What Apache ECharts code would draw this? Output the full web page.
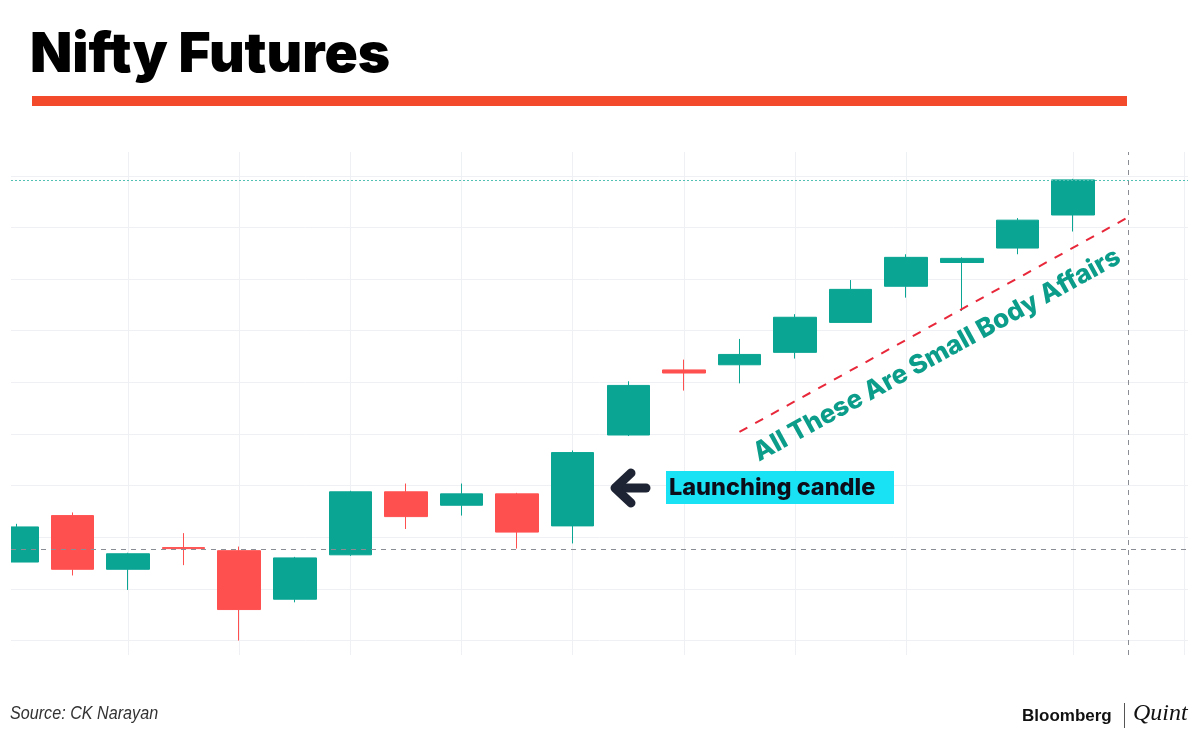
<!DOCTYPE html>
<html><head><meta charset="utf-8">
<script src="https://cdn.jsdelivr.net/npm/echarts@6/dist/echarts.min.js"></script>
<style>html,body{margin:0;padding:0;background:#fff}#c{width:1200px;height:730px}</style>
</head><body><div id="c"></div>
<script>
// ---- data ----
const candleX = [1,2,3,4,5,6,7,8,9,10,11,12,13,14,15,16,17,18,19,20];
const opens  = [11476,11521,11469,11490,11487,11440,11483,11544,11531,11542,11511,11599,11662,11667,11679,11708,11743,11766,11780,11812];
const closes = [11510,11469,11484,11489,11430,11480,11544,11520,11542,11505,11582,11647,11659,11677,11713,11740,11771,11770,11807,11846];
const lows   = [11476,11463,11449,11473,11400,11437,11482,11508,11521,11489,11494,11598,11642,11649,11673,11708,11732,11719,11774,11796];
const highs  = [11513,11524,11485,11504,11491,11481,11545,11552,11552,11543,11584,11651,11672,11692,11716,11749,11774,11771,11809,11847];
const priceGrid = [11400,11450,11500,11550,11600,11650,11700,11750,11800,11850];
const timeGrid = [3,5,7,9,11,13,15,17,20,22];
const crossX = 21;
const crossPrice = 11488;
const lastPrice = closes[closes.length-1];
const trendStart = [14, 11602];
const trendEnd = [21, 11810];

const UP = '#0aa593', DOWN = '#ff5050';
const data = candleX.map((x,i)=>[x, opens[i], closes[i], lows[i], highs[i]]);

const chart = echarts.init(document.getElementById('c'), null, {renderer:'canvas'});
const gridLineStyle = {color:'#eef0f3', width:1, type:'solid'};
chart.setOption({
  animation:false,
  backgroundColor:'#fff',
  grid:{left:11, right:12, top:152, bottom:75},
  xAxis:{type:'value', min:0.894, max:22.07, show:false, splitLine:{show:false}},
  yAxis:{type:'value', min:11386, max:11873, show:false, splitLine:{show:false}, scale:true},
  series:[
    {
      type:'line', data:[], z:1, silent:true,
      markLine:{
        z:1, silent:true, symbol:'none', animation:false, label:{show:false},
        lineStyle:gridLineStyle,
        data: priceGrid.map(v=>({yAxis:v})).concat(timeGrid.map(v=>({xAxis:v})))
      }
    },
    {
      type:'candlestick', z:3, clip:true, barWidth:43,
      encode:{x:0, y:[1,2,3,4]},
      data:data,
      itemStyle:{color:UP, color0:DOWN, borderColor:UP, borderColor0:DOWN, borderWidth:1},
      markLine:{
        z:6, silent:true, symbol:'none', animation:false, label:{show:false},
        data:[
          {yAxis:crossPrice, lineStyle:{color:'#8a8d93', width:1, type:[5,5]}},
          {xAxis:crossX, lineStyle:{color:'#8a8d93', width:1, type:[5,5]}},
          {yAxis:lastPrice, lineStyle:{color:'#52c0b2', width:1, type:[2,2]}},
          [{coord:trendStart, lineStyle:{color:'#e8283a', width:2, type:[9,9]}}, {coord:trendEnd}]
        ]
      }
    }
  ],
  graphic:[
    {type:'rect', z:100, shape:{x:0, y:140, width:11, height:530}, style:{fill:'#fff'}},
    {type:'text', z:100, left:30, top:28, style:{text:'Nifty Futures', font:'900 55px Inter', fill:'#000'}},
    {type:'rect', z:100, shape:{x:32, y:96, width:1095, height:10}, style:{fill:'#f24a2a'}},
    {type:'text', z:100, x:937, y:355, rotation:0.503, style:{text:'All These Are Small Body Affairs', font:'800 26px Inter', fill:'#0c9d8a', align:'center', verticalAlign:'middle'}},
    {type:'polyline', z:100, shape:{points:[[646,488],[616,488]]}, style:{stroke:'#1e2433', lineWidth:9, lineCap:'round'}},
    {type:'polyline', z:100, shape:{points:[[631,473],[615,488],[631,503]]}, style:{stroke:'#1e2433', lineWidth:9, lineCap:'round', lineJoin:'round', fill:null}},
    {type:'rect', z:100, shape:{x:666, y:471, width:228, height:33}, style:{fill:'#1ae2f5'}},
    {type:'text', z:101, x:669, y:488, style:{text:'Launching candle', font:'800 23.5px Inter', fill:'#0d0d1a', verticalAlign:'middle'}},
    {type:'text', z:100, x:10, y:714, scaleX:0.85, style:{text:'Source: CK Narayan', font:'italic 19px "Liberation Sans"', fill:'#333', verticalAlign:'middle'}},
    {type:'text', z:100, x:1022, y:716, style:{text:'Bloomberg', font:'bold 17px "Liberation Sans"', fill:'#111', verticalAlign:'middle'}},
    {type:'rect', z:100, shape:{x:1124, y:703, width:1, height:25}, style:{fill:'#555'}},
    {type:'text', z:100, x:1133, y:714, style:{text:'Quint', font:'italic 24px "Liberation Serif"', fill:'#111', verticalAlign:'middle'}}
  ]
});
</script></body></html>
